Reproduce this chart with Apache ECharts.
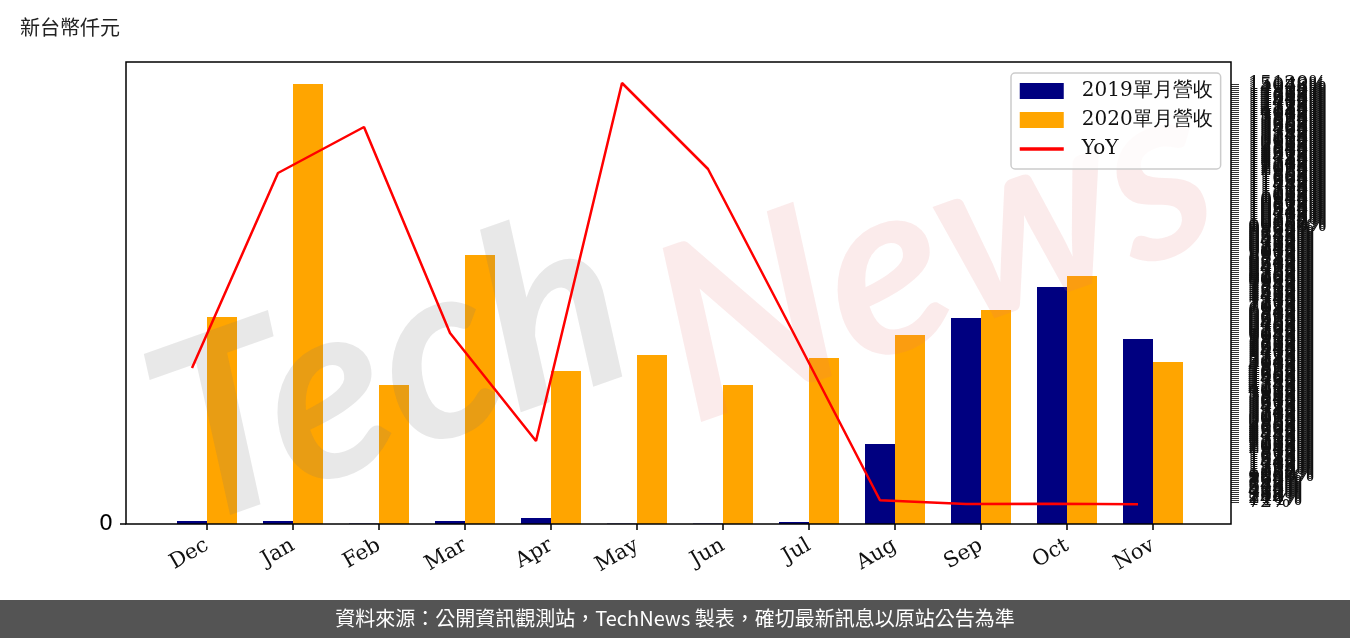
<!DOCTYPE html>
<html>
<head>
<meta charset="utf-8">
<script src="https://cdn.jsdelivr.net/npm/echarts@6/dist/echarts.min.js"></script>
<style>
  html, body { margin: 0; padding: 0; background: #fff; }
  #chart { width: 1350px; height: 638px; }
</style>
</head>
<body>
<div id="chart"></div>
<script>
// 月份
var months = ['Dec', 'Jan', 'Feb', 'Mar', 'Apr', 'May', 'Jun', 'Jul', 'Aug', 'Sep', 'Oct', 'Nov'];
// 單月營收（新台幣仟元）
var rev2019 = [3000, 3000, 400, 3000, 6000, 400, 400, 2000, 80000, 206000, 237000, 185000];
var rev2020 = [207000, 440000, 139000, 269000, 153000, 169000, 139000, 166000, 189000, 214000, 248000, 162000];
// 年增率 (%)
var yoy = [4896, 11916, 13572, 6156, 2268, 15156, 12060, 6120, 136, 4, 5, -12];
// 左軸刻度
var leftTicks = [0];
// 右軸刻度（很密，標籤會互相重疊）
var rightTickFrom = 0, rightTickTo = 15192, rightTickStep = 72;
var rightTicks = [];
for (var t = rightTickFrom; t <= rightTickTo; t += rightTickStep) rightTicks.push(t);

var serif = 'DejaVu Serif, serif';
var chart = echarts.init(document.getElementById('chart'));

chart.setOption({
  animation: false,
  backgroundColor: '#fff',
  title: {
    text: '新台幣仟元',
    left: 15, top: 12,
    textStyle: { fontSize: 20, fontWeight: 'normal', color: '#222', fontFamily: 'Noto Sans CJK TC' }
  },
  legend: {
    orient: 'vertical',
    left: 1011, top: 73,
    padding: [8, 8, 10, 7],
    itemWidth: 44, itemHeight: 16, itemGap: 9,
    backgroundColor: 'rgba(255,255,255,0.8)',
    borderColor: '#ccc', borderWidth: 1.5, borderRadius: 4,
    textStyle: { fontSize: 20, lineHeight: 16, color: '#111', fontFamily: serif, padding: [0, 0, 0, 13] },
    data: [
      { name: '2019單月營收', icon: 'rect' },
      { name: '2020單月營收', icon: 'rect' },
      { name: 'YoY', itemStyle: { opacity: 0 }, lineStyle: { width: 3.5, color: '#FF0000' } }
    ]
  },
  grid: [
    // 長條圖
    { left: 164, width: 1032, top: 62, bottom: 114 },
    // 折線（向左偏半根長條）
    { left: 149, width: 1032, top: 62, bottom: 114 }
  ],
  xAxis: [
    {
      type: 'category', gridIndex: 0, data: months,
      axisLine: { show: false },
      axisTick: { show: true, alignWithLabel: true, length: 6, lineStyle: { color: '#000', width: 1.5 } },
      axisLabel: { rotate: 30, margin: 20, fontSize: 21, color: '#111', fontFamily: serif }
    },
    { type: 'category', gridIndex: 1, data: months, show: false }
  ],
  yAxis: [
    {
      type: 'value', gridIndex: 0, position: 'left', offset: 38,
      min: 0, max: 462000,
      splitLine: { show: false },
      axisLine: { show: false },
      axisTick: { show: true, length: 6, customValues: leftTicks, lineStyle: { color: '#000', width: 1.5 } },
      axisLabel: { customValues: leftTicks, margin: 13, fontSize: 22, color: '#000', fontFamily: 'DejaVu Sans' }
    },
    {
      type: 'value', gridIndex: 0, position: 'right', offset: 35,
      min: -720, max: 15912,
      splitLine: { show: false },
      axisLine: { show: false },
      axisTick: { show: true, length: 8, customValues: rightTicks, lineStyle: { color: '#333', width: 1 } },
      axisLabel: {
        customValues: rightTicks, margin: 17, fontSize: 19, color: '#111', fontFamily: serif,
        formatter: function (v) { return v + '%'; }
      }
    },
    { type: 'value', gridIndex: 1, min: -720, max: 15912, show: false }
  ],
  graphic: [
    // 浮水印
    {
      type: 'text', left: 120, top: 175, rotation: 0.34, z: 3, silent: true,
      style: { text: 'Tech', fontSize: 250, fontStyle: 'italic', fontWeight: 'bold', fontFamily: 'Lato', fill: 'rgba(120,120,120,0.17)' }
    },
    {
      type: 'text', left: 625, top: 45, rotation: 0.34, z: 3, silent: true,
      style: { text: 'News', fontSize: 245, fontStyle: 'italic', fontWeight: 'bold', fontFamily: 'Lato', fill: 'rgba(225,110,110,0.14)' }
    },
    // 外框
    {
      type: 'rect', z: 20, silent: true,
      shape: { x: 126, y: 62, width: 1105, height: 462 },
      style: { fill: 'none', stroke: '#000', lineWidth: 1.5 }
    },
    // 頁尾
    {
      type: 'rect', z: 20, silent: true,
      shape: { x: 0, y: 600, width: 1350, height: 38 },
      style: { fill: '#545454' }
    },
    {
      type: 'text', z: 21, silent: true, left: 'center', top: 608,
      style: {
        text: '資料來源：公開資訊觀測站，TechNews 製表，確切最新訊息以原站公告為準',
        fontSize: 20, fill: '#fff', fontFamily: 'Noto Sans CJK TC'
      }
    }
  ],
  series: [
    {
      name: '2019單月營收', type: 'bar', xAxisIndex: 0, yAxisIndex: 0,
      data: rev2019, barWidth: 30, barGap: '0%', itemStyle: { color: '#000080' }
    },
    {
      name: '2020單月營收', type: 'bar', xAxisIndex: 0, yAxisIndex: 0,
      data: rev2020, barWidth: 30, barGap: '0%', itemStyle: { color: '#FFA500' }
    },
    {
      name: 'YoY', type: 'line', xAxisIndex: 1, yAxisIndex: 2, z: 10,
      data: yoy, symbol: 'none', itemStyle: { color: '#FF0000' },
      lineStyle: { color: '#FF0000', width: 2.5 }
    }
  ]
});
</script>
</body>
</html>
